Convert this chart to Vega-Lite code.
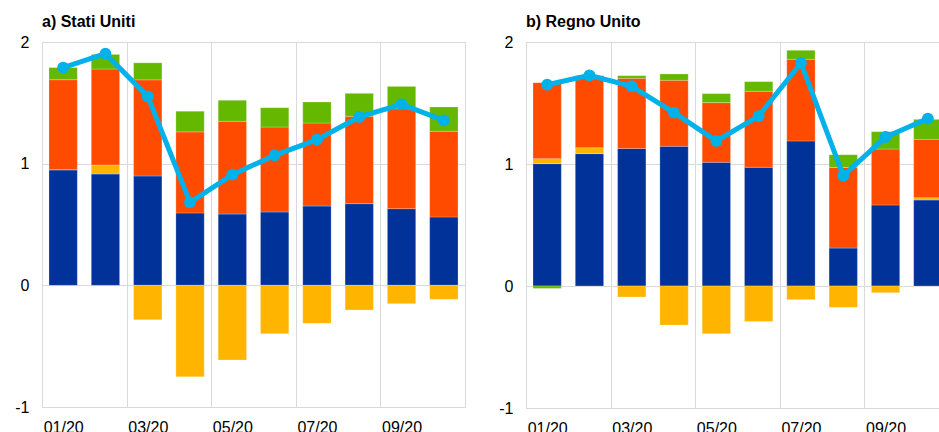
{
  "$schema": "https://vega.github.io/schema/vega-lite/v6.json",
  "padding": {"left": 14, "top": 13, "right": 0, "bottom": 0},
  "spacing": 32,
  "config": {
    "font": "Liberation Sans",
    "view": {"stroke": "#d9d9d9", "strokeWidth": 1},
    "axis": {"labelFont": "Liberation Sans", "labelFontSize": 16, "labelColor": "#000000", "gridColor": "#d9d9d9", "ticks": false, "domain": false, "title": null},
    "title": {"font": "Liberation Sans", "fontSize": 16, "fontWeight": "bold", "anchor": "start", "frame": "group", "color": "#000000", "offset": 4}
  },
  "datasets": {
    "bars": [
      {"c": "US", "m": "01/20", "s": "a", "v": 0.95},
      {"c": "US", "m": "01/20", "s": "b", "v": 0.0},
      {"c": "US", "m": "01/20", "s": "c", "v": 0.74},
      {"c": "US", "m": "01/20", "s": "d", "v": 0.10},
      {"c": "US", "m": "02/20", "s": "a", "v": 0.915},
      {"c": "US", "m": "02/20", "s": "b", "v": 0.074},
      {"c": "US", "m": "02/20", "s": "c", "v": 0.789},
      {"c": "US", "m": "02/20", "s": "d", "v": 0.12},
      {"c": "US", "m": "03/20", "s": "a", "v": 0.899},
      {"c": "US", "m": "03/20", "s": "b", "v": -0.282},
      {"c": "US", "m": "03/20", "s": "c", "v": 0.79},
      {"c": "US", "m": "03/20", "s": "d", "v": 0.14},
      {"c": "US", "m": "04/20", "s": "a", "v": 0.595},
      {"c": "US", "m": "04/20", "s": "b", "v": -0.751},
      {"c": "US", "m": "04/20", "s": "c", "v": 0.666},
      {"c": "US", "m": "04/20", "s": "d", "v": 0.17},
      {"c": "US", "m": "05/20", "s": "a", "v": 0.586},
      {"c": "US", "m": "05/20", "s": "b", "v": -0.614},
      {"c": "US", "m": "05/20", "s": "c", "v": 0.762},
      {"c": "US", "m": "05/20", "s": "d", "v": 0.173},
      {"c": "US", "m": "06/20", "s": "a", "v": 0.603},
      {"c": "US", "m": "06/20", "s": "b", "v": -0.397},
      {"c": "US", "m": "06/20", "s": "c", "v": 0.698},
      {"c": "US", "m": "06/20", "s": "d", "v": 0.159},
      {"c": "US", "m": "07/20", "s": "a", "v": 0.652},
      {"c": "US", "m": "07/20", "s": "b", "v": -0.312},
      {"c": "US", "m": "07/20", "s": "c", "v": 0.682},
      {"c": "US", "m": "07/20", "s": "d", "v": 0.173},
      {"c": "US", "m": "08/20", "s": "a", "v": 0.671},
      {"c": "US", "m": "08/20", "s": "b", "v": -0.203},
      {"c": "US", "m": "08/20", "s": "c", "v": 0.718},
      {"c": "US", "m": "08/20", "s": "d", "v": 0.189},
      {"c": "US", "m": "09/20", "s": "a", "v": 0.63},
      {"c": "US", "m": "09/20", "s": "b", "v": -0.151},
      {"c": "US", "m": "09/20", "s": "c", "v": 0.822},
      {"c": "US", "m": "09/20", "s": "d", "v": 0.183},
      {"c": "US", "m": "10/20", "s": "a", "v": 0.562},
      {"c": "US", "m": "10/20", "s": "b", "v": -0.115},
      {"c": "US", "m": "10/20", "s": "c", "v": 0.704},
      {"c": "US", "m": "10/20", "s": "d", "v": 0.2},
      {"c": "UK", "m": "01/20", "s": "a", "v": 1.003},
      {"c": "UK", "m": "01/20", "s": "b", "v": 0.041},
      {"c": "UK", "m": "01/20", "s": "c", "v": 0.623},
      {"c": "UK", "m": "01/20", "s": "d", "v": -0.02},
      {"c": "UK", "m": "02/20", "s": "a", "v": 1.085},
      {"c": "UK", "m": "02/20", "s": "b", "v": 0.049},
      {"c": "UK", "m": "02/20", "s": "c", "v": 0.592},
      {"c": "UK", "m": "02/20", "s": "d", "v": 0.0},
      {"c": "UK", "m": "03/20", "s": "a", "v": 1.128},
      {"c": "UK", "m": "03/20", "s": "b", "v": -0.09},
      {"c": "UK", "m": "03/20", "s": "c", "v": 0.574},
      {"c": "UK", "m": "03/20", "s": "d", "v": 0.022},
      {"c": "UK", "m": "04/20", "s": "a", "v": 1.145},
      {"c": "UK", "m": "04/20", "s": "b", "v": -0.32},
      {"c": "UK", "m": "04/20", "s": "c", "v": 0.541},
      {"c": "UK", "m": "04/20", "s": "d", "v": 0.052},
      {"c": "UK", "m": "05/20", "s": "a", "v": 1.014},
      {"c": "UK", "m": "05/20", "s": "b", "v": -0.391},
      {"c": "UK", "m": "05/20", "s": "c", "v": 0.489},
      {"c": "UK", "m": "05/20", "s": "d", "v": 0.074},
      {"c": "UK", "m": "06/20", "s": "a", "v": 0.973},
      {"c": "UK", "m": "06/20", "s": "b", "v": -0.29},
      {"c": "UK", "m": "06/20", "s": "c", "v": 0.623},
      {"c": "UK", "m": "06/20", "s": "d", "v": 0.079},
      {"c": "UK", "m": "07/20", "s": "a", "v": 1.189},
      {"c": "UK", "m": "07/20", "s": "b", "v": -0.112},
      {"c": "UK", "m": "07/20", "s": "c", "v": 0.669},
      {"c": "UK", "m": "07/20", "s": "d", "v": 0.074},
      {"c": "UK", "m": "08/20", "s": "a", "v": 0.311},
      {"c": "UK", "m": "08/20", "s": "b", "v": -0.175},
      {"c": "UK", "m": "08/20", "s": "c", "v": 0.661},
      {"c": "UK", "m": "08/20", "s": "d", "v": 0.104},
      {"c": "UK", "m": "09/20", "s": "a", "v": 0.664},
      {"c": "UK", "m": "09/20", "s": "b", "v": -0.055},
      {"c": "UK", "m": "09/20", "s": "c", "v": 0.459},
      {"c": "UK", "m": "09/20", "s": "d", "v": 0.142},
      {"c": "UK", "m": "10/20", "s": "a", "v": 0.705},
      {"c": "UK", "m": "10/20", "s": "b", "v": 0.019},
      {"c": "UK", "m": "10/20", "s": "c", "v": 0.478},
      {"c": "UK", "m": "10/20", "s": "d", "v": 0.164}
    ],
    "line": [
      {"c": "US", "m": "01/20", "t": 1.79},
      {"c": "US", "m": "02/20", "t": 1.904},
      {"c": "US", "m": "03/20", "t": 1.553},
      {"c": "US", "m": "04/20", "t": 0.682},
      {"c": "US", "m": "05/20", "t": 0.91},
      {"c": "US", "m": "06/20", "t": 1.068},
      {"c": "US", "m": "07/20", "t": 1.197},
      {"c": "US", "m": "08/20", "t": 1.384},
      {"c": "US", "m": "09/20", "t": 1.488},
      {"c": "US", "m": "10/20", "t": 1.356},
      {"c": "UK", "m": "01/20", "t": 1.65},
      {"c": "UK", "m": "02/20", "t": 1.727},
      {"c": "UK", "m": "03/20", "t": 1.637},
      {"c": "UK", "m": "04/20", "t": 1.421},
      {"c": "UK", "m": "05/20", "t": 1.189},
      {"c": "UK", "m": "06/20", "t": 1.393},
      {"c": "UK", "m": "07/20", "t": 1.828},
      {"c": "UK", "m": "08/20", "t": 0.904},
      {"c": "UK", "m": "09/20", "t": 1.221},
      {"c": "UK", "m": "10/20", "t": 1.372}
    ]
  },
  "hconcat": [
    {
      "title": {"text": "a) Stati Uniti"},
      "width": 423,
      "height": 365,
      "layer": [
        {
          "data": {"name": "bars"},
          "transform": [{"filter": "datum.c === 'US'"}],
          "mark": {"type": "bar", "stroke": "#ffffff", "strokeOpacity": 0.35, "strokeWidth": 0.7},
          "encoding": {
            "x": {"field": "m", "type": "ordinal", "scale": {"paddingInner": 0.33, "paddingOuter": 0.165},
                  "axis": {"values": ["01/20", "03/20", "05/20", "07/20", "09/20"], "grid": true, "tickOffset": -21.15, "labelOffset": 21.15, "labelAngle": 0, "labelPadding": 12}},
            "y": {"field": "v", "type": "quantitative", "stack": "zero", "scale": {"domain": [-1, 2], "nice": false},
                  "axis": {"values": [-1, 0, 1, 2], "labelExpr": "'' + datum.value", "grid": true, "labelPadding": 13}},
            "color": {"field": "s", "type": "nominal", "legend": null, "scale": {"domain": ["a", "b", "c", "d"], "range": ["#003299", "#FFB400", "#FF4B00", "#65B800"]}},
            "order": {"field": "s", "sort": "ascending"}
          }
        },
        {
          "data": {"name": "line"},
          "transform": [{"filter": "datum.c === 'US'"}],
          "mark": {"type": "line", "color": "#00B1EA", "strokeWidth": 5, "point": {"filled": true, "size": 140, "color": "#00B1EA"}},
          "encoding": {
            "x": {"field": "m", "type": "ordinal"},
            "y": {"field": "t", "type": "quantitative"}
          }
        }
      ]
    },
    {
      "title": {"text": "b) Regno Unito"},
      "width": 423,
      "height": 366,
      "layer": [
        {
          "data": {"name": "bars"},
          "transform": [{"filter": "datum.c === 'UK'"}],
          "mark": {"type": "bar", "stroke": "#ffffff", "strokeOpacity": 0.35, "strokeWidth": 0.7},
          "encoding": {
            "x": {"field": "m", "type": "ordinal", "scale": {"paddingInner": 0.33, "paddingOuter": 0.165},
                  "axis": {"values": ["01/20", "03/20", "05/20", "07/20", "09/20"], "grid": true, "tickOffset": -21.15, "labelOffset": 21.15, "labelAngle": 0, "labelPadding": 12}},
            "y": {"field": "v", "type": "quantitative", "stack": "zero", "scale": {"domain": [-1, 2], "nice": false},
                  "axis": {"values": [-1, 0, 1, 2], "labelExpr": "'' + datum.value", "grid": true, "labelPadding": 13}},
            "color": {"field": "s", "type": "nominal", "legend": null, "scale": {"domain": ["a", "b", "c", "d"], "range": ["#003299", "#FFB400", "#FF4B00", "#65B800"]}},
            "order": {"field": "s", "sort": "ascending"}
          }
        },
        {
          "data": {"name": "line"},
          "transform": [{"filter": "datum.c === 'UK'"}],
          "mark": {"type": "line", "color": "#00B1EA", "strokeWidth": 5, "point": {"filled": true, "size": 140, "color": "#00B1EA"}},
          "encoding": {
            "x": {"field": "m", "type": "ordinal"},
            "y": {"field": "t", "type": "quantitative"}
          }
        }
      ]
    }
  ],
  "resolve": {"scale": {"color": "shared"}}
}
